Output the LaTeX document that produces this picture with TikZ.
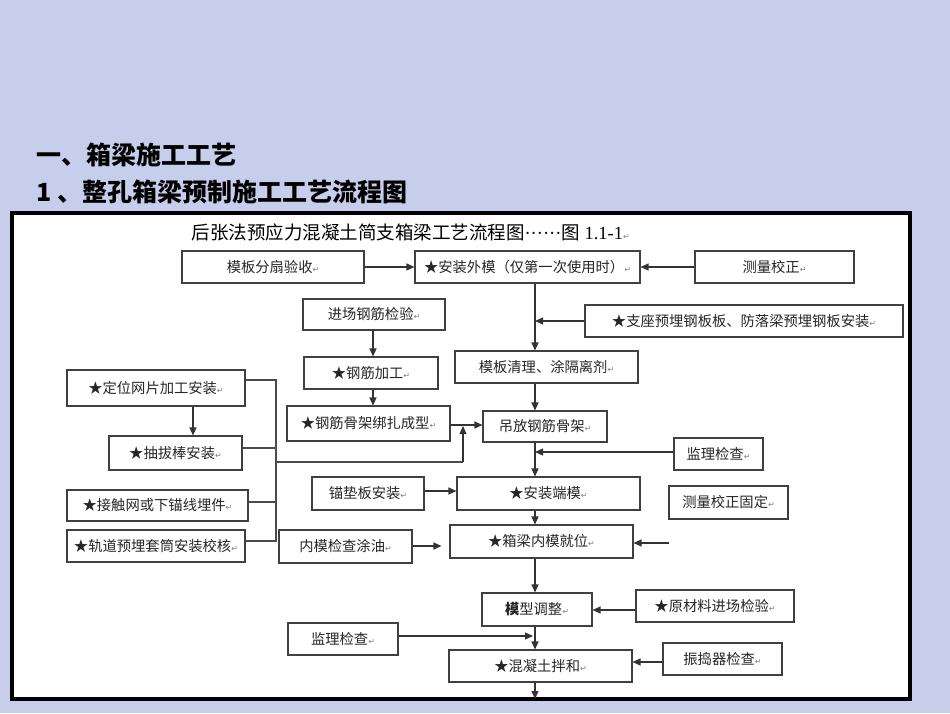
\documentclass[tikz,border=0pt]{standalone}
\usepackage{fontspec}
\setmainfont{Liberation Serif}
\newfontfamily\cjk{Noto Sans CJK SC}
\newfontfamily\dvs{DejaVu Sans}
\usetikzlibrary{arrows.meta}
\definecolor{bgc}{RGB}{198,206,236}
\newcommand{\rt}{{\dvs\fontsize{8}{8}\selectfont\color{gray}↵}}
\begin{document}
\begin{tikzpicture}[x=1pt,y=-1pt,
  bx/.style={draw=black!75,line width=1.1pt,fill=white,inner sep=0pt,font=\cjk\fontsize{14.3}{15}\selectfont,text=black!85},
  ar/.style={draw=black!80,line width=1.2pt,-{Triangle[length=8pt,width=7pt]}},
  ln/.style={draw=black!70,line width=1.1pt}]
\fill[bgc] (0,0) rectangle (950,713);
\useasboundingbox (0,0) rectangle (950,713);
\draw[line width=4pt,fill=white] (12,213) rectangle (910,699);
\node[anchor=west,font=\cjk\bfseries\fontsize{25}{26}\selectfont] (h1) at (33,155) {一、箱梁施工工艺};
\node[anchor=west,font=\cjk\bfseries\fontsize{25}{26}\selectfont] (h2) at (33,192) {1 、整孔箱梁预制施工工艺流程图};
\node[font=\cjk\fontsize{18.5}{19}\selectfont,anchor=west] (t) at (188,232) {后张法预应力混凝土简支箱梁工艺流程图{\rmfamily······}图{\rmfamily\ 1.1-1}\rt};
\newcommand{\bb}[6]{\node[bx,minimum width=#4-#2,minimum height=#5-#3] (#1) at ({(#2+#4)/2},{(#3+#5)/2}) {#6\rt};}
\bb{mbfs}{182}{251}{364}{283}{模板分扇验收}
\bb{azwm}{415}{251}{640}{283}{★安装外模（仅第一次使用时）}
\bb{clxz}{695}{251}{854}{283}{测量校正}
\bb{jcgj}{303}{299}{445}{330}{进场钢筋检验}
\bb{gjjg}{304}{357}{438}{389}{★钢筋加工}
\bb{gjgj}{287}{406}{450}{441}{★钢筋骨架绑扎成型}
\bb{dwwp}{67}{370}{245}{406}{★定位网片加工安装}
\bb{cbb}{109}{436}{242}{470}{★抽拔棒安装}
\bb{zzyb}{585}{305}{903}{337}{★支座预埋钢板板、防落梁预埋钢板安装}
\bb{mbql}{455}{351}{638}{383}{模板清理、涂隔离剂}
\bb{dfgj}{483}{411}{607}{442}{吊放钢筋骨架}
\bb{jl1}{674}{438}{763}{470}{监理检查}
\bb{mdb}{312}{477}{424}{510}{锚垫板安装}
\bb{azdm}{457}{477}{640}{510}{★安装端模}
\bb{clgd}{669}{486}{788}{519}{测量校正固定}
\bb{jcw}{67}{490}{248}{521}{★接触网或下锚线埋件}
\bb{gdyb}{67}{530}{245}{562}{★轨道预埋套筒安装校核}
\bb{nmjc}{279}{530}{412}{563}{内模检查涂油}
\bb{xlnm}{450}{525}{633}{558}{★箱梁内模就位}
\bb{mxtz}{482}{593}{592}{626}{{\bfseries 模}型调整}
\bb{ycl}{636}{590}{794}{622}{★原材料进场检验}
\bb{jl2}{288}{623}{398}{655}{监理检查}
\bb{hnt}{449}{650}{632}{682}{★混凝土拌和}
\bb{zdq}{663}{643}{782}{675}{振捣器检查}
% connectors
\draw[ar] (mbfs) -- (azwm);
\draw[ar] (clxz) -- (azwm);
\draw[ar] (azwm.south -| 535,0) -- (mbql.north -| 535,0);
\coordinate (j1) at (535,321);
\draw[ar] (zzyb.west |- j1) -- (j1);
\draw[ar] (mbql.south -| 535,0) -- (dfgj.north -| 535,0);
\draw[ar] (jcgj.south -| 373,0) -- (gjjg.north -| 373,0);
\draw[ar] (gjjg.south -| 373,0) -- (gjgj.north -| 373,0);
\draw[ar] (gjgj.east |- 0,425) -- (dfgj.west |- 0,425);
\draw[ar] (dwwp.south -| 193,0) -- (cbb.north -| 193,0);
\coordinate (b1) at (276,380); \coordinate (b2) at (276,541);
\draw[ln] (dwwp.east |- b1) -- (b1) -- (b2) -- (gdyb.east |- b2);
\draw[ln] (cbb.east |- 0,448) -- (276,448);
\draw[ln] (jcw.east |- 0,502) -- (276,502);
\coordinate (lp) at (463,462);
\draw[ln] (276,462) -- (lp);
\draw[ar] (lp) -- (463,426);
\draw[ar] (dfgj.south -| 535,0) -- (azdm.north -| 535,0);
\draw[ar] (jl1.west |- 0,452) -- (535,452);
\draw[ar] (mdb.east |- 0,491) -- (azdm.west |- 0,491);
\draw[ar] (azdm.south -| 535,0) -- (xlnm.north -| 535,0);
\draw[ar,shorten >=8pt] (nmjc.east |- 0,546) -- (xlnm.west |- 0,546);
\coordinate (fr) at (669,543);
\draw[ar] (fr) -- (xlnm.east |- fr);
\draw[ar] (xlnm.south -| 535,0) -- (mxtz.north -| 535,0);
\draw[ar] (ycl.west |- 0,610) -- (mxtz.east |- 0,610);
\draw[ar] (mxtz.south -| 535,0) -- (hnt.north -| 535,0);
\draw[ar] (jl2.east |- 0,636) -- (533,636);
\draw[ar] (zdq.west |- 0,662) -- (hnt.east |- 0,662);
\coordinate (end) at (535,699);
\draw[ar] (hnt.south -| 535,0) -- (end);
\end{tikzpicture}
\end{document}
